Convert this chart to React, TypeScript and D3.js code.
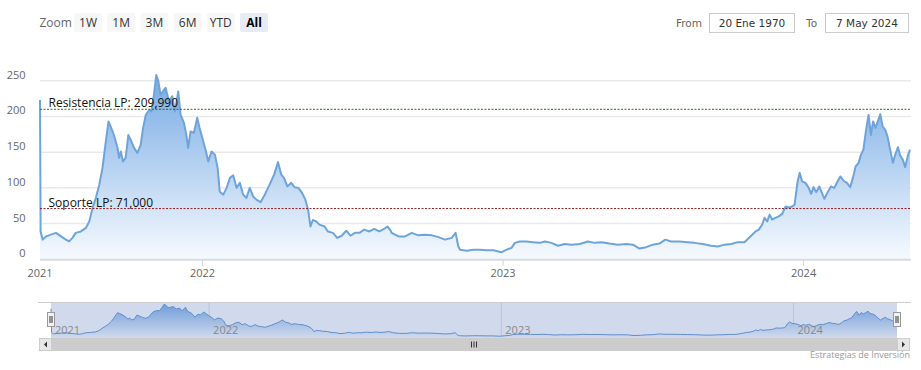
import React, { useEffect, useRef } from "react";
import * as d3 from "d3";

// fecha en año decimal + precio de cierre
const years = [
  2021.459, 2021.461, 2021.468, 2021.479, 2021.495, 2021.512, 2021.529, 2021.545, 2021.556, 2021.567,
  2021.578, 2021.595, 2021.612, 2021.623, 2021.634, 2021.645, 2021.656, 2021.667, 2021.678, 2021.687,
  2021.694, 2021.705, 2021.717, 2021.722, 2021.728, 2021.735, 2021.744, 2021.753, 2021.761, 2021.772,
  2021.783, 2021.794, 2021.802, 2021.811, 2021.822, 2021.83, 2021.838, 2021.846, 2021.853, 2021.86,
  2021.868, 2021.877, 2021.888, 2021.899, 2021.908, 2021.919, 2021.927, 2021.938, 2021.946, 2021.952,
  2021.96, 2021.971, 2021.982, 2021.99, 2021.999, 2022.01, 2022.019,
  2022.03, 2022.041, 2022.05, 2022.057, 2022.069, 2022.08, 2022.091, 2022.102, 2022.113, 2022.124,
  2022.135, 2022.146, 2022.157, 2022.168, 2022.179, 2022.193, 2022.207, 2022.223, 2022.238, 2022.251,
  2022.262, 2022.271, 2022.282, 2022.295, 2022.306, 2022.319, 2022.331, 2022.342, 2022.351, 2022.359,
  2022.367, 2022.378, 2022.389, 2022.406, 2022.417, 2022.434, 2022.448, 2022.463, 2022.478, 2022.492,
  2022.507, 2022.522, 2022.538, 2022.555, 2022.571, 2022.588, 2022.604, 2022.615, 2022.626,
  2022.629, 2022.652, 2022.674, 2022.696, 2022.718, 2022.74, 2022.763, 2022.785, 2022.807, 2022.829,
  2022.842, 2022.851, 2022.857, 2022.879, 2022.901, 2022.923, 2022.945, 2022.968, 2022.995, 2023.012,
  2023.028, 2023.039, 2023.056, 2023.078, 2023.1, 2023.122, 2023.139, 2023.161, 2023.183, 2023.205,
  2023.227, 2023.255, 2023.282, 2023.305, 2023.327, 2023.354, 2023.382, 2023.41, 2023.432, 2023.454,
  2023.476, 2023.498, 2023.52, 2023.54, 2023.559, 2023.587, 2023.614, 2023.637, 2023.664, 2023.692,
  2023.714, 2023.737, 2023.759, 2023.781, 2023.803,
  2023.823, 2023.84, 2023.851, 2023.862, 2023.87, 2023.879, 2023.887, 2023.895, 2023.906, 2023.917,
  2023.929, 2023.94, 2023.951, 2023.962, 2023.97, 2023.98, 2023.987, 2023.995, 2024.006, 2024.017,
  2024.025, 2024.033, 2024.042, 2024.052, 2024.061, 2024.069, 2024.08, 2024.091, 2024.102, 2024.113,
  2024.122, 2024.133, 2024.144, 2024.155, 2024.164, 2024.173, 2024.183, 2024.191, 2024.199, 2024.207,
  2024.216, 2024.224, 2024.231, 2024.239, 2024.247, 2024.255, 2024.263, 2024.272, 2024.279, 2024.288,
  2024.297, 2024.305, 2024.314, 2024.321, 2024.33, 2024.338, 2024.347, 2024.354,
];

const prices = [
  223, 39, 27.5, 32, 34.5, 37, 32, 27.5, 25, 30,
  37, 39, 44, 53, 72, 86, 104, 128, 165, 193,
  186, 174, 156, 142, 151, 137, 142, 174, 167, 156,
  149, 160, 184, 202, 209, 207, 230, 258, 249, 230,
  235, 240, 221, 228, 207, 235, 202, 191, 174, 156,
  179, 177, 198, 184, 170, 153, 137,
  151, 146.5, 128, 95, 90.5, 100, 114, 117.5, 100, 107,
  90.5, 86, 100, 88, 83.5, 80, 90.5, 104.5, 118.5, 136,
  118.5, 114, 102, 107, 101, 100, 93, 83.5, 69.5, 46,
  55, 53, 48.5, 46, 39, 37, 30, 33, 40, 33,
  37, 37, 41.5, 39, 42.5, 39, 42.5, 46, 40,
  37, 32, 32, 37, 33.5, 34.5, 33.5, 31, 27.5, 30,
  37, 18, 13.5, 12, 13.5, 13.5, 12.6, 12.6, 10, 13.5,
  16, 23, 25, 25, 24, 23, 25, 23, 19, 21.5,
  20.5, 21.5, 25, 23, 24, 22, 20.5, 21.5, 20.5, 15,
  17, 20.5, 22, 27.5, 25, 25, 24, 23, 21.5, 19,
  18, 20.5, 21.5, 24, 24,
  32, 39, 41.5, 48.5, 58, 53, 62.5, 55.5, 58, 60,
  63.5, 74, 72.5, 74, 76.5, 109, 121, 109, 107, 100,
  91.5, 101, 94, 102, 93, 84.5, 94, 102, 100, 109,
  116, 110, 107, 101, 114, 130, 135, 146.5, 153.5, 179,
  202, 174, 193, 184, 193, 203, 186, 181, 172, 153.5,
  135, 146.5, 157, 145.5, 139.5, 129, 145.5, 153.5,
];

const yTicks = [0, 50, 100, 150, 200, 250];
const xTickYears = [2022, 2023, 2024];
const rangeButtons = ["1W", "1M", "3M", "6M", "YTD", "All"];
const levelNames = ["Resistencia LP", "Soporte LP"];
const levelValues = [209.99, 71.0];
const levelColors = ["#2e6b1e", "#8e1b1b"];
const fromDate = "20 Ene 1970";
const toDate = "7 May 2024";

const FONT = "'Open Sans', 'Noto Sans', sans-serif";

function App() {
  const ref = useRef<SVGSVGElement>(null);

  useEffect(() => {
    drawChart();
  }, []);

  function drawChart() {
    const svg = d3.select(ref.current);
    svg.selectAll("*").remove();

    const data = years.map((t, i) => ({ t, v: prices[i] }));
    const first = years[0];
    const last = years[years.length - 1];

    // main plot
    const x = d3.scaleLinear().domain([first, last]).range([40, 910]);
    const y = d3.scaleLinear().domain([0, 250]).range([259.3, 80.7]);

    const defs = svg.append("defs");
    const g1 = defs
      .append("linearGradient")
      .attr("id", "mainFill")
      .attr("gradientUnits", "userSpaceOnUse")
      .attr("x1", 0)
      .attr("y1", 75)
      .attr("x2", 0)
      .attr("y2", 259);
    g1.append("stop").attr("offset", 0).attr("stop-color", "rgb(118,170,228)");
    g1.append("stop").attr("offset", 1).attr("stop-color", "rgb(246,250,254)");

    const g2 = defs
      .append("linearGradient")
      .attr("id", "navFill")
      .attr("gradientUnits", "userSpaceOnUse")
      .attr("x1", 0)
      .attr("y1", 303)
      .attr("x2", 0)
      .attr("y2", 338);
    g2.append("stop").attr("offset", 0).attr("stop-color", "rgb(110,165,226)");
    g2.append("stop").attr("offset", 1).attr("stop-color", "rgb(255,255,255)");

    svg.append("rect").attr("width", 921).attr("height", 370).attr("fill", "#fff");

    // grid
    svg
      .append("g")
      .selectAll("line")
      .data(yTicks.filter((d) => d > 0))
      .join("line")
      .attr("x1", 40)
      .attr("x2", 911)
      .attr("y1", (d) => y(d))
      .attr("y2", (d) => y(d))
      .attr("stroke", "#e9e9e9")
      .attr("stroke-width", 1.5);

    const area = d3
      .area<{ t: number; v: number }>()
      .x((d) => x(d.t))
      .y0(y(0))
      .y1((d) => y(d.v));
    const line = d3
      .line<{ t: number; v: number }>()
      .x((d) => x(d.t))
      .y((d) => y(d.v));

    svg.append("path").datum(data).attr("d", area).attr("fill", "url(#mainFill)");
    svg
      .append("path")
      .datum(data)
      .attr("d", line)
      .attr("fill", "none")
      .attr("stroke", "#6fa4db")
      .attr("stroke-width", 2)
      .attr("stroke-linejoin", "round");

    // x axis line
    svg
      .append("line")
      .attr("x1", 40)
      .attr("x2", 911)
      .attr("y1", y(0) + 0.5)
      .attr("y2", y(0) + 0.5)
      .attr("stroke", "#d6dae1")
      .attr("stroke-width", 2);

    // support / resistance
    levelValues.forEach((lv, i) => {
      svg
        .append("line")
        .attr("x1", 40)
        .attr("x2", 911)
        .attr("y1", y(lv))
        .attr("y2", y(lv))
        .attr("stroke", levelColors[i])
        .attr("stroke-width", 1)
        .attr("stroke-dasharray", "2,1.5");
      svg
        .append("text")
        .attr("x", 48.5)
        .attr("y", y(lv) - 2)
        .attr("font-family", FONT)
        .attr("font-size", 12)
        .attr("fill", "#111")
        .text(`${levelNames[i]}: ${d3.format(",.3f")(lv).replace(".", ",")}`);
    });

    // y labels
    svg
      .append("g")
      .selectAll("text")
      .data(yTicks)
      .join("text")
      .attr("x", 25.5)
      .attr("y", (d) => y(d) - 2)
      .attr("text-anchor", "end")
      .attr("font-family", FONT)
      .attr("font-size", 11)
      .attr("fill", "#666")
      .text((d) => d);

    // x ticks + labels
    const xt = [first, ...xTickYears];
    svg
      .append("g")
      .selectAll("line")
      .data(xTickYears)
      .join("line")
      .attr("x1", (d) => x(d))
      .attr("x2", (d) => x(d))
      .attr("y1", 260)
      .attr("y2", 266)
      .attr("stroke", "#ccd6eb");
    svg
      .append("g")
      .selectAll("text")
      .data(xt)
      .join("text")
      .attr("x", (d) => x(d))
      .attr("y", 276.5)
      .attr("text-anchor", "middle")
      .attr("font-family", FONT)
      .attr("font-size", 11)
      .attr("fill", "#666")
      .text((d) => Math.floor(d));

    // range selector
    svg
      .append("text")
      .attr("x", 39.5)
      .attr("y", 26.5)
      .attr("font-family", FONT)
      .attr("font-size", 12)
      .attr("fill", "#666")
      .text("Zoom");
    rangeButtons.forEach((b, i) => {
      const bx = 74 + i * 33.2;
      const sel = b === "All";
      svg
        .append("rect")
        .attr("x", bx)
        .attr("y", 13)
        .attr("width", 28)
        .attr("height", 19)
        .attr("rx", 2)
        .attr("fill", sel ? "#e6ebf5" : "#f7f7f7");
      svg
        .append("text")
        .attr("x", bx + 14)
        .attr("y", 27)
        .attr("text-anchor", "middle")
        .attr("font-family", FONT)
        .attr("font-size", 12)
        .attr("font-weight", sel ? "bold" : "normal")
        .attr("fill", sel ? "#000" : "#333")
        .text(b);
    });

    // from / to
    const inputs = [
      { label: "From", lx: 676, bx: 709.5, bw: 85, val: fromDate },
      { label: "To", lx: 806, bx: 825.5, bw: 83, val: toDate },
    ];
    inputs.forEach((d) => {
      svg
        .append("text")
        .attr("x", d.lx)
        .attr("y", 27)
        .attr("font-family", "'DejaVu Sans', sans-serif")
        .attr("font-size", 10.5)
        .attr("fill", "#666")
        .text(d.label);
      svg
        .append("rect")
        .attr("x", d.bx)
        .attr("y", 13.5)
        .attr("width", d.bw)
        .attr("height", 19)
        .attr("fill", "#fff")
        .attr("stroke", "#cccccc");
      svg
        .append("text")
        .attr("x", d.bx + d.bw / 2)
        .attr("y", 27)
        .attr("text-anchor", "middle")
        .attr("font-family", "'DejaVu Sans', sans-serif")
        .attr("font-size", 10.5)
        .attr("fill", "#333")
        .text(d.val);
    });

    // navigator
    const nx = d3.scaleLinear().domain([first, last]).range([51, 897]);
    const ny = d3.scaleLinear().domain([0, 260]).range([337.5, 304]);
    svg
      .append("g")
      .selectAll("line")
      .data(xTickYears)
      .join("line")
      .attr("x1", (d) => nx(d))
      .attr("x2", (d) => nx(d))
      .attr("y1", 302)
      .attr("y2", 338)
      .attr("stroke", "#e0e0e0");
    const navArea = d3
      .area<{ t: number; v: number }>()
      .x((d) => nx(d.t))
      .y0(338)
      .y1((d) => ny(d.v));
    const navLine = d3
      .line<{ t: number; v: number }>()
      .x((d) => nx(d.t))
      .y((d) => ny(d.v));
    svg.append("path").datum(data).attr("d", navArea).attr("fill", "url(#navFill)");
    svg
      .append("path")
      .datum(data)
      .attr("d", navLine)
      .attr("fill", "none")
      .attr("stroke", "#5b93d4")
      .attr("stroke-width", 1);
    svg
      .append("rect")
      .attr("x", 51)
      .attr("y", 302.5)
      .attr("width", 846)
      .attr("height", 35.5)
      .attr("fill", "rgba(102,133,194,0.3)");
    svg
      .append("line")
      .attr("x1", 38)
      .attr("x2", 911)
      .attr("y1", 302.5)
      .attr("y2", 302.5)
      .attr("stroke", "#cccccc");
    svg
      .append("g")
      .selectAll("text")
      .data(xt)
      .join("text")
      .attr("x", (d) => nx(d) + 4)
      .attr("y", 334)
      .attr("font-family", FONT)
      .attr("font-size", 11)
      .attr("fill", "#888")
      .text((d) => Math.floor(d));

    // handles
    [51, 897].forEach((hx) => {
      svg
        .append("rect")
        .attr("x", hx - 3.5)
        .attr("y", 312.5)
        .attr("width", 7)
        .attr("height", 14)
        .attr("fill", "#f2f2f2")
        .attr("stroke", "#999");
      [-1, 1].forEach((o) => {
        svg
          .append("line")
          .attr("x1", hx + o)
          .attr("x2", hx + o)
          .attr("y1", 316)
          .attr("y2", 323)
          .attr("stroke", "#333");
      });
    });

    // scrollbar
    svg.append("rect").attr("x", 39).attr("y", 338).attr("width", 871).attr("height", 13).attr("fill", "#f2f2f2");
    svg.append("rect").attr("x", 51).attr("y", 338).attr("width", 846).attr("height", 13).attr("fill", "#cccccc");
    [39, 897].forEach((bx, i) => {
      svg
        .append("rect")
        .attr("x", bx + 0.5)
        .attr("y", 338.5)
        .attr("width", 12)
        .attr("height", 12)
        .attr("fill", "#e6e6e6")
        .attr("stroke", "#cccccc");
      const cx = bx + 6.5;
      const pts =
        i === 0
          ? [[cx + 1.5, 341.5], [cx + 1.5, 347.5], [cx - 1.5, 344.5]]
          : [[cx - 1.5, 341.5], [cx - 1.5, 347.5], [cx + 1.5, 344.5]];
      svg.append("path").attr("d", "M" + pts.join("L") + "Z").attr("fill", "#333");
    });
    [-2.5, 0, 2.5].forEach((o) => {
      svg
        .append("line")
        .attr("x1", 474 + o)
        .attr("x2", 474 + o)
        .attr("y1", 341.5)
        .attr("y2", 347.5)
        .attr("stroke", "#333");
    });

    // credits
    svg
      .append("text")
      .attr("x", 910)
      .attr("y", 358)
      .attr("text-anchor", "end")
      .attr("font-family", FONT)
      .attr("font-size", 9)
      .attr("fill", "#999")
      .text("Estrategias de Inversión");
  }

  return (
    <svg
      ref={ref}
      width={921}
      height={370}
      style={{ position: "absolute", left: 0, top: 0, display: "block" }}
    />
  );
}

export default App;
